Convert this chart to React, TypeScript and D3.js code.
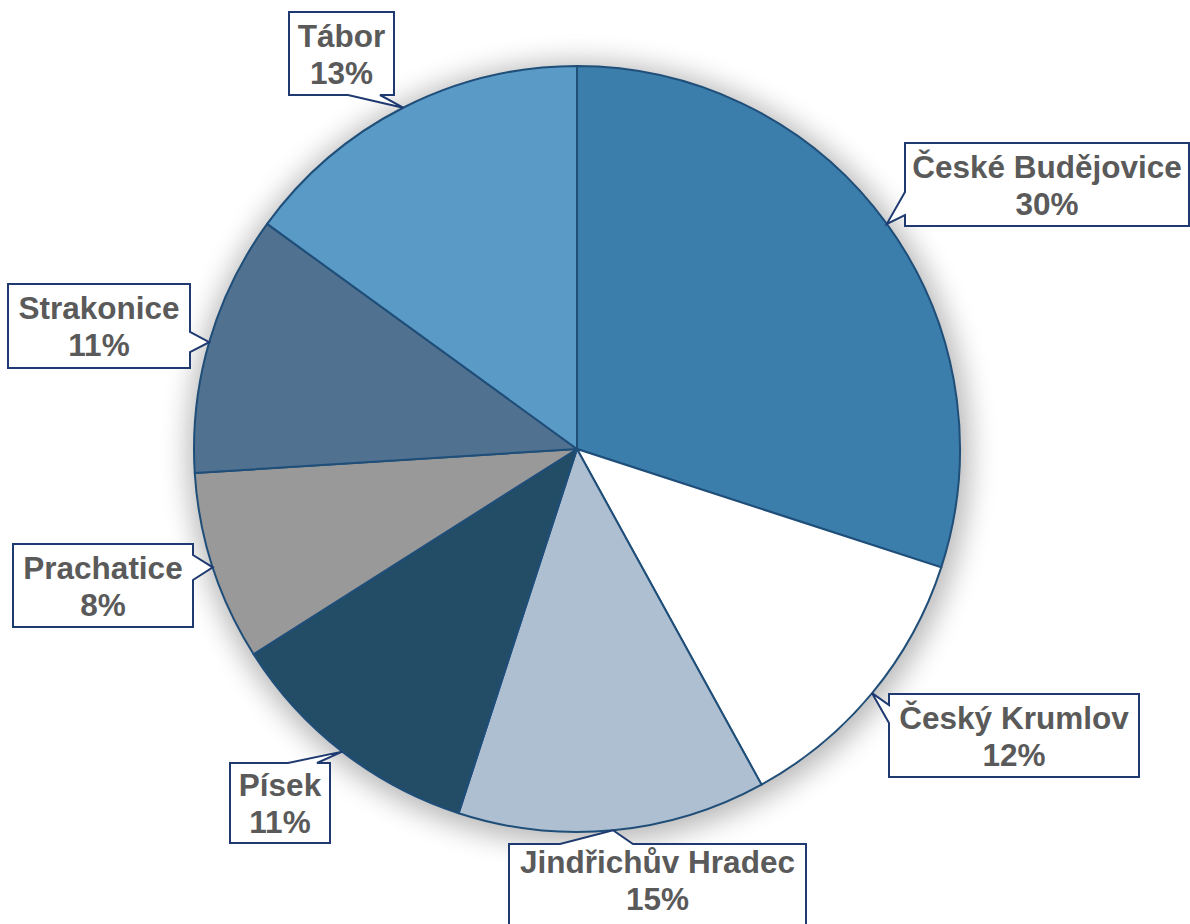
import React, { useEffect, useRef } from "react";
import * as d3 from "d3";

// districts, clockwise from 12 o'clock
const districts = ["České Budějovice", "Český Krumlov", "Jindřichův Hradec", "Písek", "Prachatice", "Strakonice", "Tábor"];
// slice sizes (share of the whole, %)
const shares = [30, 12, 13, 11, 8, 11, 15];
// label texts as printed on the chart
const percentLabels = ["30%", "12%", "15%", "11%", "8%", "11%", "13%"];
const colors = ["#3B7EAB", "#FFFFFF", "#ADBFD1", "#234C66", "#999999", "#50718F", "#5A9AC6"];

// callout boxes: rect, side carrying the pointer, and pointer base along that side
const callouts = [
  { x: 905, y: 143, w: 284, h: 83, side: "left", b1: 192, b2: 215 },
  { x: 889, y: 694, w: 250, h: 83, side: "left", b1: 705, b2: 723 },
  { x: 509, y: 844, w: 297, h: 100, side: "top", b1: 560, b2: 633, ty: 880 },
  { x: 230, y: 763, w: 100, h: 80, side: "top", b1: 288, b2: 317 },
  { x: 13, y: 544, w: 180, h: 83, side: "right", b1: 555, b2: 580 },
  { x: 8, y: 284, w: 182, h: 84, side: "right", b1: 332, b2: 352 },
  { x: 289, y: 12, w: 105, h: 83, side: "bottom", b1: 348, b2: 380 },
];

function calloutPath(c: any, tip: [number, number]) {
  const x0 = c.x, y0 = c.y, x1 = c.x + c.w, y1 = c.y + c.h;
  const t = `${tip[0]},${tip[1]}`;
  if (c.side === "left")
    return `M${x0},${y0}L${x1},${y0}L${x1},${y1}L${x0},${y1}L${x0},${c.b2}L${t}L${x0},${c.b1}Z`;
  if (c.side === "right")
    return `M${x0},${y0}L${x1},${y0}L${x1},${c.b1}L${t}L${x1},${c.b2}L${x1},${y1}L${x0},${y1}Z`;
  if (c.side === "top")
    return `M${x0},${y0}L${c.b1},${y0}L${t}L${c.b2},${y0}L${x1},${y0}L${x1},${y1}L${x0},${y1}Z`;
  return `M${x0},${y0}L${x1},${y0}L${x1},${y1}L${c.b2},${y1}L${t}L${c.b1},${y1}L${x0},${y1}Z`;
}

export default function App() {
  const ref = useRef<SVGSVGElement>(null);

  useEffect(() => {
    const width = 1190;
    const height = 924;
    const cx = 577, cy = 449, radius = 383;

    const svg = d3.select(ref.current).attr("width", width).attr("height", height);
    svg.selectAll("*").remove();

    const defs = svg.append("defs");
    defs.append("filter")
      .attr("id", "pieShadow")
      .attr("x", "-20%").attr("y", "-20%").attr("width", "140%").attr("height", "140%")
      .append("feGaussianBlur")
      .attr("stdDeviation", 14);

    const g = svg.append("g").attr("transform", `translate(${cx}, ${cy})`);

    // soft shadow round the pie
    g.append("circle")
      .attr("cx", 2).attr("cy", 4)
      .attr("r", radius + 8)
      .attr("fill", "#000")
      .attr("opacity", 0.28)
      .attr("filter", "url(#pieShadow)");

    const pie = d3.pie<number>().sort(null).value(d => d);
    const arcs = pie(shares);
    const arc = d3.arc<d3.PieArcDatum<number>>().innerRadius(0).outerRadius(radius);

    g.selectAll("path.slice")
      .data(arcs)
      .join("path")
      .attr("class", "slice")
      .attr("d", arc)
      .attr("fill", (d, i) => colors[i])
      .attr("stroke", "#1F4E79")
      .attr("stroke-width", 2)
      .attr("stroke-linejoin", "round");

    // callouts
    const labels = svg.append("g");
    arcs.forEach((a, i) => {
      const c: any = callouts[i];
      const mid = (a.startAngle + a.endAngle) / 2;
      const tip: [number, number] = [cx + radius * Math.sin(mid), cy - radius * Math.cos(mid)];
      labels.append("path")
        .attr("d", calloutPath(c, tip))
        .attr("fill", "#FFFFFF")
        .attr("stroke", "#1F3A70")
        .attr("stroke-width", 2)
        .attr("stroke-linejoin", "miter");
      const tx = c.x + c.w / 2;
      const ty = c.ty !== undefined ? c.ty : c.y + c.h / 2;
      const t = labels.append("text")
        .attr("text-anchor", "middle")
        .attr("font-family", "'Liberation Sans', Arial, sans-serif")
        .attr("font-weight", "bold")
        .attr("font-size", 31.5)
        .attr("fill", "#5A5A5A");
      t.append("tspan").attr("x", tx).attr("y", ty - 7).text(districts[i]);
      t.append("tspan").attr("x", tx).attr("y", ty + 30).text(percentLabels[i]);
    });
  }, []);

  return (
    <div style={{ position: "absolute", left: 0, top: 0 }}>
      <svg ref={ref} style={{ display: "block" }}></svg>
    </div>
  );
}
